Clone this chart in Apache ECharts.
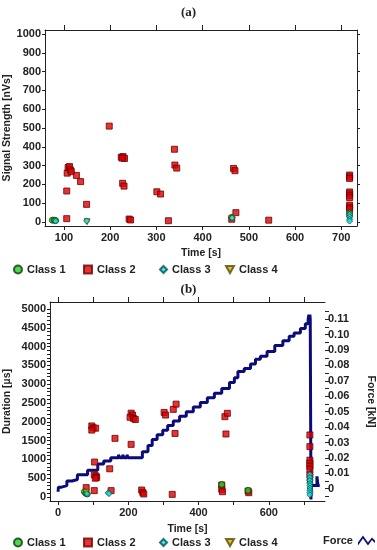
<!DOCTYPE html>
<html>
<head>
<meta charset="utf-8">
<script src="https://cdn.jsdelivr.net/npm/echarts@6/dist/echarts.min.js"></script>
<style>html,body{margin:0;padding:0;background:#fff;}#c{width:377px;height:550px;}</style>
</head>
<body>
<div id="c"></div>
<script>
// ---- chart (a): Signal strength vs time ----
var aClass1 = [[75,10],[79,10],[82,8],[463,25],[718,48],[718,35]];
var aClass2 = [[106,18],[106,165],[107,260],[109,290],[112,295],[114,277],[116,268],[127,248],[136,215],[149,94],[198,510],[224,345],[228,348],[231,338],[226,340],[227,206],[230,191],[241,16],[244,11],[301,161],[309,149],[326,7],[339,387],[340,303],[344,287],[463,15],[467,285],[470,273],[472,50],[543,10],[718,250],[718,240],[718,232],[718,160],[718,150],[718,140],[718,130],[718,90],[718,80],[718,70]];
var aClass3 = [[82,5],[149,6],[464,22],[718,42],[718,28],[718,15],[718,5]];
var aClass4 = [[150,2],[463,19],[718,30]];
var aTimeTicks = [100,200,300,400,500,600,700];
var aSignalTicks = [0,100,200,300,400,500,600,700,800,900,1000];

// ---- chart (b): Duration & force vs time ----
var bClass1 = [[75,140],[79,100],[83,80],[466,330],[541,175],[717,460]];
var bClass2 = [[80,250],[96,1890],[100,1840],[107,1830],[96,1780],[104,930],[103,590],[108,560],[110,520],[106,500],[103,170],[147,750],[151,170],[162,1560],[208,2230],[212,2180],[205,2120],[215,2090],[220,2060],[208,1400],[238,186],[241,125],[244,80],[302,2250],[306,2180],[325,70],[328,2330],[336,2470],[333,1690],[466,320],[466,205],[468,140],[475,2136],[482,2226],[478,1676],[541,160],[543,115],[717,1650],[717,1340],[717,980],[717,900],[717,820],[717,740],[717,585]];
var bClass3 = [[82,90],[143,115],[145,90],[717,600],[717,520],[717,440],[717,360],[717,300],[717,240],[717,180],[717,120],[717,60]];
var bClass4 = [[80,125],[717,320]];
var bForce = [[0,-0.002],[1,0.001],[10,0.002],[25,0.005],[40,0.006],[55,0.009],[84,0.012],[113,0.016],[130,0.018],[150,0.020],[172,0.022],[176,0.020],[184,0.022],[188,0.020],[196,0.022],[200,0.020],[240,0.024],[256,0.028],[268,0.032],[282,0.035],[298,0.038],[312,0.041],[328,0.044],[346,0.047],[365,0.050],[385,0.053],[405,0.056],[425,0.059],[445,0.062],[466,0.065],[488,0.069],[502,0.072],[512,0.076],[530,0.078],[548,0.081],[562,0.084],[576,0.086],[595,0.089],[617,0.093],[640,0.096],[658,0.099],[672,0.101],[690,0.104],[704,0.107],[712,0.110],[714,0.113],[715,0.108],[717,0.113],[718,0.110],[720,-0.007],[721,0.002],[737,0.008],[740,0.002],[745,0.002]];
var bTimeTicks = [0,100,200,300,400,500,600,700];
var bTimeLabels = [0,200,400,600];
var bDurLabels = [0,500,1000,1500,2000,2500,3000,3500,4000,4500,5000];
var bForceLabels = [0,1,2,3,4,5,6,7,8,9,10,11].map(function(i){return i/100;});

var bDurTicks = []; for (var i = 0; i <= 50; i++) bDurTicks.push(i*100);
var bForceTicks = []; for (var j = -1; j <= 23; j++) bForceTicks.push(j*0.005);

var FONT = 'Liberation Sans, Arial, sans-serif';
var lab = {fontFamily: FONT, fontSize: 11, fontWeight: 'bold', color: '#222'};
var nameStyle = {fontFamily: FONT, fontSize: 10.5, fontWeight: 'bold', color: '#222'};
var line = {show: true, onZero: false, lineStyle: {color: '#222', width: 1}};
function plain(v){ return String(Math.round(v)); }

function sty(c, b){ return {color: c, borderColor: b, borderWidth: 1}; }
var S1 = sty('#22cc22', '#0a3a0a'), S2 = sty('#e00000', '#6a0000'), S3 = sty('#22e0e0', '#035050'), S4 = sty('#d8b400', '#5a4a00');

var chart = echarts.init(document.getElementById('c'), null, {renderer: 'canvas'});
chart.setOption({
  backgroundColor: '#fff',
  animation: false,
  title: [
    {text: '(a)', left: 'center', top: 1, textStyle: {fontFamily: 'Liberation Serif, serif', fontSize: 13, fontWeight: 'bold', color: '#222'}},
    {text: '(b)', left: 'center', top: 278, textStyle: {fontFamily: 'Liberation Serif, serif', fontSize: 13, fontWeight: 'bold', color: '#222'}}
  ],
  grid: [
    {left: 45, top: 30, width: 312, height: 196, containLabel: false, outerBoundsMode: 'none'},
    {left: 50, top: 302, width: 275, height: 199, containLabel: false, outerBoundsMode: 'none'}
  ],
  legend: [
    {data: [{name: 'Class 1', icon: 'circle'}], left: 8, top: 259, itemWidth: 8, itemHeight: 8, textStyle: lab},
    {data: [{name: 'Class 2', icon: 'rect'}], left: 78, top: 259, itemWidth: 8, itemHeight: 8, textStyle: lab},
    {data: [{name: 'Class 3', icon: 'diamond'}], left: 154, top: 259, itemWidth: 7, itemHeight: 7, textStyle: lab},
    {data: [{name: 'Class 4', icon: 'path://M0,0 L10,0 L5,9 Z'}], left: 220, top: 259, itemWidth: 8, itemHeight: 8, textStyle: lab},
    {data: [{name: 'Class 1', icon: 'circle'}], left: 8, top: 532, itemWidth: 8, itemHeight: 8, textStyle: lab},
    {data: [{name: 'Class 2', icon: 'rect'}], left: 78, top: 532, itemWidth: 8, itemHeight: 8, textStyle: lab},
    {data: [{name: 'Class 3', icon: 'diamond'}], left: 154, top: 532, itemWidth: 7, itemHeight: 7, textStyle: lab},
    {data: [{name: 'Class 4', icon: 'path://M0,0 L10,0 L5,9 Z'}], left: 220, top: 532, itemWidth: 8, itemHeight: 8, textStyle: lab},
    {data: [{name: 'Force', icon: 'path://M0,8 L5,1 L10,8 L14,3 L17,6 L17,8.5 L14,5.5 L10,11 L5,4 L0,11 Z'}], left: 318, top: 530, align: 'right', itemWidth: 17, itemHeight: 11, textStyle: lab}
  ],
  xAxis: [
    {gridIndex: 0, type: 'value', position: 'bottom', min: 59, max: 734, axisLine: line,
     axisTick: {show: true, length: 4, customValues: aTimeTicks, lineStyle: {color: '#222'}},
     axisLabel: {customValues: aTimeTicks, margin: 6, formatter: plain, fontFamily: FONT, fontSize: 11, fontWeight: 'bold', color: '#222'},
     splitLine: {show: false}, name: 'Time [s]', nameLocation: 'middle', nameGap: 22, nameTextStyle: nameStyle},
    {gridIndex: 0, type: 'value', position: 'top', min: 59, max: 734, axisLine: line,
     axisTick: {show: true, length: 5, customValues: aTimeTicks, lineStyle: {color: '#222'}},
     axisLabel: {show: false}, splitLine: {show: false}},
    {gridIndex: 1, type: 'value', position: 'bottom', min: -23, max: 760, axisLine: line,
     axisTick: {show: true, length: 4, customValues: bTimeTicks, lineStyle: {color: '#222'}},
     axisLabel: {customValues: bTimeLabels, margin: 6, formatter: plain, fontFamily: FONT, fontSize: 11, fontWeight: 'bold', color: '#222'},
     splitLine: {show: false}, name: 'Time [s]', nameLocation: 'middle', nameGap: 23, nameTextStyle: nameStyle},
    {gridIndex: 1, type: 'value', position: 'top', min: -23, max: 760, axisLine: line,
     axisTick: {show: true, length: 5, customValues: bTimeTicks, lineStyle: {color: '#222'}},
     axisLabel: {show: false}, splitLine: {show: false}}
  ],
  yAxis: [
    {gridIndex: 0, type: 'value', position: 'left', min: -21, max: 1021, axisLine: line,
     axisTick: {show: true, length: 3, customValues: aSignalTicks, lineStyle: {color: '#222'}},
     axisLabel: {customValues: aSignalTicks, margin: 4, formatter: plain, fontFamily: FONT, fontSize: 11, fontWeight: 'bold', color: '#222'},
     splitLine: {show: false}, name: 'Signal Strength [nVs]', nameLocation: 'middle', nameGap: 32, nameMoveOverlap: false, nameTextStyle: nameStyle},
    {gridIndex: 0, type: 'value', position: 'right', min: -21, max: 1021, axisLine: line,
     axisTick: {show: true, length: 3, customValues: aSignalTicks, lineStyle: {color: '#222'}},
     axisLabel: {show: false}, splitLine: {show: false}},
    {gridIndex: 1, type: 'value', position: 'left', min: -106, max: 5186, axisLine: line,
     axisTick: {show: true, length: 3, customValues: bDurTicks, lineStyle: {color: '#222'}},
     axisLabel: {customValues: bDurLabels, margin: 4, formatter: plain, fontFamily: FONT, fontSize: 11, fontWeight: 'bold', color: '#222'},
     splitLine: {show: false}, name: 'Duration [µs]', nameLocation: 'middle', nameGap: 37, nameMoveOverlap: false, nameTextStyle: nameStyle},
    {gridIndex: 1, type: 'value', position: 'right', min: -0.008, max: 0.1212, axisLine: {show: false, onZero: false},
     axisTick: {show: true, length: 4, customValues: bForceTicks, lineStyle: {color: '#222'}},
     axisLabel: {customValues: bForceLabels, margin: 3, fontFamily: FONT, fontSize: 11, fontWeight: 'bold', color: '#222',
       formatter: function(v){ return Math.abs(v) < 1e-9 ? '0' : v.toFixed(2); }},
     splitLine: {show: false}, name: 'Force [kN]', nameLocation: 'middle', nameRotate: -90, nameGap: 40, nameMoveOverlap: false, nameTextStyle: nameStyle}
  ],
  series: [
    {name: 'Class 2', type: 'scatter', xAxisIndex: 0, yAxisIndex: 0, data: aClass2, symbol: 'rect', symbolSize: 6, itemStyle: S2, z: 3},
    {name: 'Class 1', type: 'scatter', xAxisIndex: 0, yAxisIndex: 0, data: aClass1, symbol: 'circle', symbolSize: 6, itemStyle: S1, z: 4},
    {name: 'Class 4', type: 'scatter', xAxisIndex: 0, yAxisIndex: 0, data: aClass4, symbol: 'triangle', symbolRotate: 180, symbolSize: 6, itemStyle: S4, z: 5},
    {name: 'Class 3', type: 'scatter', xAxisIndex: 0, yAxisIndex: 0, data: aClass3, symbol: 'diamond', symbolSize: 6, itemStyle: S3, z: 6},

    {name: 'Force', type: 'line', xAxisIndex: 2, yAxisIndex: 3, data: bForce, step: 'end', showSymbol: false, symbol: 'none',
     lineStyle: {color: '#0b0b7a', width: 3}, itemStyle: {color: '#0b0b7a'}, z: 2},
    {name: 'Class 2', type: 'scatter', xAxisIndex: 2, yAxisIndex: 2, data: bClass2, symbol: 'rect', symbolSize: 6, itemStyle: S2, z: 3},
    {name: 'Class 1', type: 'scatter', xAxisIndex: 2, yAxisIndex: 2, data: bClass1, symbol: 'circle', symbolSize: 6, itemStyle: S1, z: 4},
    {name: 'Class 4', type: 'scatter', xAxisIndex: 2, yAxisIndex: 2, data: bClass4, symbol: 'triangle', symbolRotate: 180, symbolSize: 6, itemStyle: S4, z: 5},
    {name: 'Class 3', type: 'scatter', xAxisIndex: 2, yAxisIndex: 2, data: bClass3, symbol: 'diamond', symbolSize: 6, itemStyle: S3, z: 6}
  ]
});
</script>
</body>
</html>
